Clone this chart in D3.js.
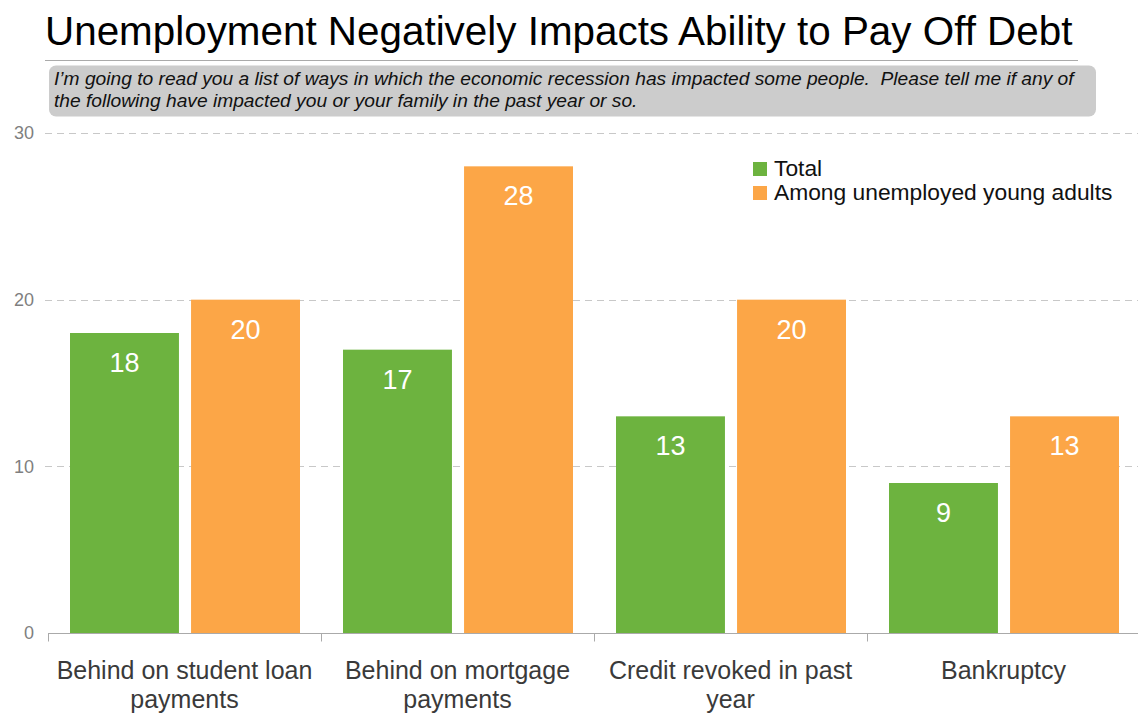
<!DOCTYPE html>
<meta charset="utf-8">
<title>Unemployment Negatively Impacts Ability to Pay Off Debt</title>
<style>
  body { margin: 0; background: #fff; }
  svg { display: block; font-family: "Liberation Sans", Arial, sans-serif; }
  .grid line { stroke: #c8c8c8; stroke-dasharray: 7 5; }
  .ylab { fill: #7f7f7f; font-size: 18px; }
  .xlab { fill: #3a3a3a; font-size: 25px; }
  .val { fill: #fff; font-size: 27px; }
</style>
<body>
<svg width="1138" height="715"></svg>
<script src="https://d3js.org/d3.v7.min.js"></script>
<script>
  var categories = [
    ["Behind on student loan", "payments"],
    ["Behind on mortgage", "payments"],
    ["Credit revoked in past", "year"],
    ["Bankruptcy"]
  ];
  var series = ["Total", "Among unemployed young adults"];
  var totalValues = [18, 17, 13, 9];
  var unemployedValues = [20, 28, 20, 13];
  var yTicks = [0, 10, 20, 30];
  var colors = ["#6db33f", "#fca647"];

  var title = "Unemployment Negatively Impacts Ability to Pay Off Debt";
  var question = [
    "I\u2019m going to read you a list of ways in which the economic recession has impacted some people.  Please tell me if any of",
    "the following have impacted you or your family in the past year or so."
  ];

  var svg = d3.select("svg");

  // title + rule
  svg.append("text")
    .attr("x", 45).attr("y", 45)
    .attr("font-size", 40.4)
    .attr("fill", "#000")
    .text(title);

  svg.append("line")
    .attr("x1", 45).attr("x2", 1078)
    .attr("y1", 60.5).attr("y2", 60.5)
    .attr("stroke", "#aaa");

  // question box
  svg.append("rect")
    .attr("x", 49).attr("y", 65.5)
    .attr("width", 1047).attr("height", 51)
    .attr("rx", 7)
    .attr("fill", "#cccccc");

  svg.selectAll(".q")
    .data(question)
    .enter().append("text")
    .attr("class", "q")
    .attr("x", 54)
    .attr("y", (d, i) => 85 + i * 22)
    .attr("font-size", 19.2)
    .attr("font-style", "italic")
    .attr("fill", "#111")
    .style("white-space", "pre")
    .text(d => d);

  var data = categories.map((c, i) => ({ cat: i, values: [totalValues[i], unemployedValues[i]] }));

  var x0 = d3.scaleBand()
    .domain(d3.range(categories.length))
    .range([48, 1140]);

  var x1 = d3.scaleBand()
    .domain(d3.range(series.length))
    .range([22, 252])
    .paddingInner(0.1);

  var y = d3.scaleLinear()
    .domain([0, 30])
    .range([633, 133]);

  // gridlines
  svg.append("g")
    .attr("class", "grid")
    .selectAll("line")
    .data(yTicks.filter(d => d > 0))
    .enter().append("line")
    .attr("x1", 45).attr("x2", 1138)
    .attr("y1", d => Math.round(y(d)) + 0.5)
    .attr("y2", d => Math.round(y(d)) + 0.5);

  svg.append("g")
    .selectAll("text")
    .data(yTicks)
    .enter().append("text")
    .attr("class", "ylab")
    .attr("x", 34)
    .attr("y", d => y(d))
    .attr("dy", "0.35em")
    .attr("text-anchor", "end")
    .text(d => d);

  // bars
  var groups = svg.append("g")
    .selectAll("g")
    .data(data)
    .enter().append("g")
    .attr("transform", d => "translate(" + x0(d.cat) + ",0)");

  groups.selectAll("rect")
    .data(d => d.values)
    .enter().append("rect")
    .attr("x", (d, i) => x1(i))
    .attr("width", x1.bandwidth())
    .attr("y", d => y(d))
    .attr("height", d => y(0) - y(d))
    .attr("fill", (d, i) => colors[i]);

  groups.selectAll(".val")
    .data(d => d.values)
    .enter().append("text")
    .attr("class", "val")
    .attr("x", (d, i) => x1(i) + x1.bandwidth() / 2)
    .attr("y", d => y(d) + 39)
    .attr("text-anchor", "middle")
    .text(d => d);

  // x axis
  var axis = svg.append("g").attr("transform", "translate(0," + (y(0) + 0.5) + ")");
  axis.append("line")
    .attr("x1", 48).attr("x2", 1138)
    .attr("stroke", "#aaa");
  axis.selectAll(".tick")
    .data(d3.range(categories.length + 1))
    .enter().append("line")
    .attr("class", "tick")
    .attr("x1", d => Math.round(48 + d * x0.step()) + 0.5)
    .attr("x2", d => Math.round(48 + d * x0.step()) + 0.5)
    .attr("y1", 0).attr("y2", 8)
    .attr("stroke", "#aaa");

  var labels = svg.append("g")
    .selectAll("text")
    .data(categories)
    .enter().append("text")
    .attr("class", "xlab")
    .attr("text-anchor", "middle")
    .attr("transform", (d, i) => "translate(" + (x0(i) + x0.bandwidth() / 2) + ",0)");
  labels.selectAll("tspan")
    .data(d => d)
    .enter().append("tspan")
    .attr("x", 0)
    .attr("y", (d, i) => 679 + i * 29)
    .text(d => d);

  // legend
  var legend = svg.append("g")
    .selectAll("g")
    .data(series)
    .enter().append("g")
    .attr("transform", (d, i) => "translate(753," + (162 + i * 24) + ")");
  legend.append("rect")
    .attr("width", 14).attr("height", 14)
    .attr("fill", (d, i) => colors[i]);
  legend.append("text")
    .attr("x", 21).attr("y", 14)
    .attr("font-size", 22.8)
    .attr("fill", "#111")
    .text(d => d);
</script>
</body>
